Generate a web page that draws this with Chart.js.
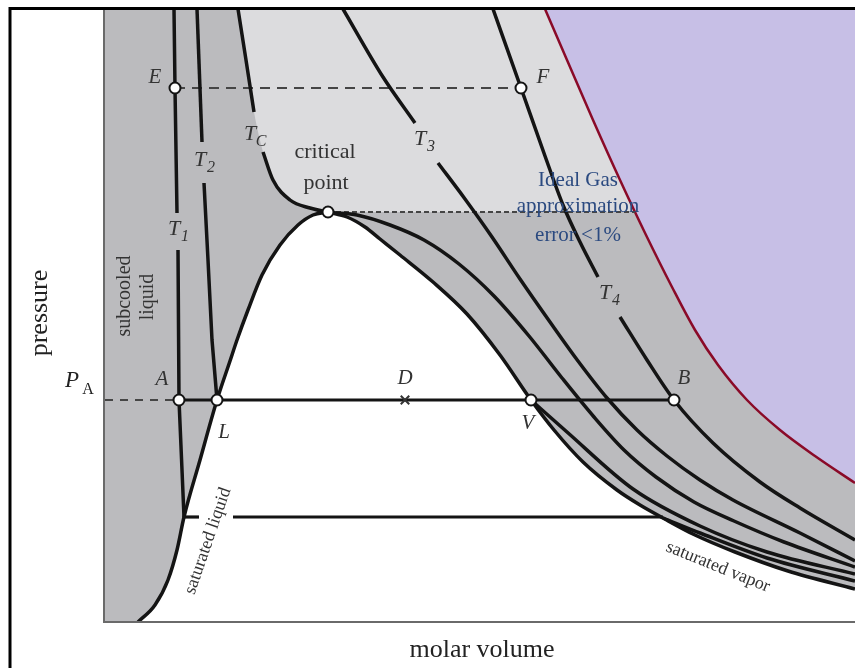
<!DOCTYPE html>
<html>
<head>
<meta charset="utf-8">
<script src="https://cdn.jsdelivr.net/npm/chart.js@4.4.1/dist/chart.umd.min.js"></script>
<style>
  html, body { margin: 0; padding: 0; background: #fff; overflow: hidden; }
  canvas { display: block; }
</style>
</head>
<body>
<canvas id="pv" width="855" height="668"></canvas>
<script>
// molar volume (x) vs pressure (y), arbitrary units
const satLiquid = [[34,0],[51,17],[64,42],[73,72],[80,105],[96,162],[113,222],[126,261],[133,282],[144,312],[158,347],[176,377],[194,397],[209,407],[224,410]];
const satVapor = [[224,410],[243,405],[261,395],[276,383],[296,367],[329,340],[363,308],[396,267],[427,222],[450,192],[479,160],[513,132],[536,117],[559,104],[591,87],[631,70],[684,51],[751,33]];

const t1Upper = [[70,613],[71,534],[73,409]];
const t1Lower = [[74,372],[75,222],[78,152],[80,105]];
const t1TieLeft = [[80,105],[95,105]];
const t1TieRight = [[129,105],[559,105]];
const t1Vapor = [[559,104],[596,89],[663,64],[751,41]];

const t2Upper = [[93,613],[98,480]];
const t2Lower = [[100,439],[104,362],[108,282],[113,222]];
const t2Vapor = [[427,222],[463,190],[529,133],[596,96],[663,70],[751,48]];

const tcUpper = [[134,613],[142,562],[150,510]];
const tcLower = [[159,470],[169,442],[186,422],[206,414],[224,410],[253,407],[286,397],[320,382],[355,358],[390,326],[425,286],[458,244],[490,205],[520,172],[552,145],[590,120],[630,101],[680,80],[751,55]];

const t3Upper = [[239,613],[279,545],[311,499]];
const t3Lower = [[334,459],[361,423],[388,385],[416,343],[446,300],[474,261],[503,224],[533,192],[563,166],[596,142],[629,122],[696,89],[751,61]];

const t4Upper = [[389,613],[417,534],[441,466],[459,417],[476,380],[494,345]];
const t4Lower = [[516,305],[543,262],[570,222],[609,179],[656,140],[696,114],[751,82]];

const idealGasLimit = [[441,613],[463,562],[489,502],[516,442],[542,387],[568,335],[591,292],[614,257],[643,222],[676,192],[711,166],[751,139]];

const isobarEF = [[71,534],[417,534]];
const isobarCritical = [[224,410],[531,410]];
const isobarPaDash = [[1,222],[75,222]];
const isobarAB = [[75,222],[570,222]];

// E, F, critical point, A, L, V, B
const statePoints = [[71,534],[417,534],[224,410],[75,222],[113,222],[427,222],[570,222]];
const mixturePoint = [[301,222]]; // D

const xy = arr => arr.map(p => ({ x: p[0], y: p[1] }));

const BLACK = "#141414";
const curve = (pts, width, straight) => ({
    data: xy(pts), borderColor: BLACK, borderWidth: width || 3.5,
    pointRadius: 0, cubicInterpolationMode: straight ? "default" : "monotone",
    tension: 0, fill: false, order: 2
});
const dashed = (pts, dash, width) => ({
    data: xy(pts), borderColor: "#454545", borderWidth: width, borderDash: dash,
    pointRadius: 0, fill: false, order: 3
});

const datasets = [
    // region fills
    { data: xy(satLiquid.concat(satVapor.slice(1))), fill: "start", backgroundColor: "#ffffff",
      borderWidth: 0, pointRadius: 0, cubicInterpolationMode: "monotone", order: 12 },
    { data: xy(tcUpper.concat(tcLower.slice(0, 5), [[531,410]])), fill: "end", backgroundColor: "#dcdcde",
      borderWidth: 0, pointRadius: 0, cubicInterpolationMode: "monotone", order: 11 },
    { data: xy(idealGasLimit), fill: "end", backgroundColor: "#c7bfe6",
      borderColor: "#8a0a28", borderWidth: 2.5, pointRadius: 0, cubicInterpolationMode: "monotone", order: 10 },

    dashed(isobarEF, [10, 7], 2.2),
    dashed(isobarCritical, [5, 3], 2),
    dashed(isobarPaDash, [8, 7], 2),

    curve(satLiquid), curve(satVapor),
    curve(t1Upper, 3.5, true), curve(t1Lower, 3.5, true), curve(t1TieLeft, 3.2, true), curve(t1TieRight, 3.2, true), curve(t1Vapor),
    curve(t2Upper, 3.5, true), curve(t2Lower, 3.5, true), curve(t2Vapor),
    curve(tcUpper, 3.5, true), curve(tcLower),
    curve(t3Upper), curve(t3Lower),
    curve(t4Upper), curve(t4Lower),
    curve(isobarAB, 3.2, true),

    { data: xy(statePoints), showLine: false, pointRadius: 5.5, pointBackgroundColor: "#ffffff",
      pointBorderColor: BLACK, pointBorderWidth: 2, order: 0 },
    { data: xy(mixturePoint), showLine: false, pointStyle: "crossRot", pointRadius: 6,
      pointBorderColor: "#333", pointBorderWidth: 2, order: 0 }
];

const SERIF = '"Liberation Serif", "DejaVu Serif", serif';

// labels in data units
const pointLabels = [["E",51,545],["F",439,545],["A",58,243],["D",301,244],["B",580,244],["L",120,190],["V",424,199]];
const isoLabels = [["1",70,393],["2",96,462],["C",146,488],["3",316,483],["4",501,329]];

function put(ctx, s, x, y, font, color, angle) {
    ctx.save();
    ctx.translate(x, y);
    if (angle) ctx.rotate(angle * Math.PI / 180);
    ctx.font = font;
    ctx.fillStyle = color;
    ctx.textAlign = "center";
    ctx.textBaseline = "middle";
    ctx.fillText(s, 0, 0);
    ctx.restore();
}

const backdrop = {
    id: "backdrop",
    beforeDatasetsDraw(chart) {
        const { ctx, chartArea: a } = chart;
        ctx.save();
        ctx.fillStyle = "#bbbbbe";
        ctx.fillRect(a.left, a.top, a.right - a.left, a.bottom - a.top);
        ctx.restore();
    }
};

const annotations = {
    id: "annotations",
    afterDraw(chart) {
        const { ctx, chartArea: a, scales } = chart;
        const px = v => scales.x.getPixelForValue(v);
        const py = v => scales.y.getPixelForValue(v);

        // axis lines
        ctx.save();
        ctx.strokeStyle = "#6a6a6a";
        ctx.lineWidth = 2;
        ctx.beginPath();
        ctx.moveTo(a.left, a.top);
        ctx.lineTo(a.left, a.bottom);
        ctx.lineTo(a.right, a.bottom);
        ctx.stroke();
        // outer frame
        ctx.strokeStyle = "#000";
        ctx.lineWidth = 3;
        ctx.beginPath();
        ctx.moveTo(10, 668);
        ctx.lineTo(10, 8.5);
        ctx.lineTo(855, 8.5);
        ctx.stroke();
        ctx.restore();

        const ink = "#333";
        pointLabels.forEach(([s, x, y]) => put(ctx, s, px(x), py(y), "italic 21px " + SERIF, ink));
        isoLabels.forEach(([sub, x, y]) => {
            put(ctx, "T", px(x), py(y), "italic 22px " + SERIF, ink);
            put(ctx, sub, px(x) + 11, py(y) + 8, "italic 16px " + SERIF, ink);
        });

        put(ctx, "critical", px(221), py(470), "22px " + SERIF, ink);
        put(ctx, "point", px(222), py(439), "22px " + SERIF, ink);

        const navy = "#2b4a80";
        put(ctx, "Ideal Gas", px(474), py(442), "21px " + SERIF, navy);
        put(ctx, "approximation", px(474), py(416), "21px " + SERIF, navy);
        put(ctx, "error <1%", px(474), py(387), "21px " + SERIF, navy);

        put(ctx, "subcooled", px(21), py(326), "20px " + SERIF, ink, -90);
        put(ctx, "liquid", px(44), py(325), "20px " + SERIF, ink, -90);
        put(ctx, "saturated liquid", px(104), py(81), "18px " + SERIF, ink, -71);
        put(ctx, "saturated vapor", px(614), py(55), "18px " + SERIF, ink, 22);

        // axis titles
        put(ctx, "pressure", 40, 313, "26px " + SERIF, "#222", -90);
        put(ctx, "molar volume", 482, 650, "26px " + SERIF, "#222");
        put(ctx, "P", 72, 381, "italic 23px " + SERIF, "#222");
        put(ctx, "A", 88, 390, "16px " + SERIF, "#222");
    }
};

new Chart(document.getElementById("pv"), {
    type: "line",
    data: { datasets },
    options: {
        responsive: false,
        animation: false,
        layout: { autoPadding: false, padding: { left: 104, top: 9, right: 0, bottom: 46 } },
        scales: {
            x: { type: "linear", min: 0, max: 751, display: false },
            y: { type: "linear", min: 0, max: 613, display: false }
        },
        plugins: { legend: { display: false }, tooltip: { enabled: false } }
    },
    plugins: [backdrop, annotations]
});
</script>
</body>
</html>
